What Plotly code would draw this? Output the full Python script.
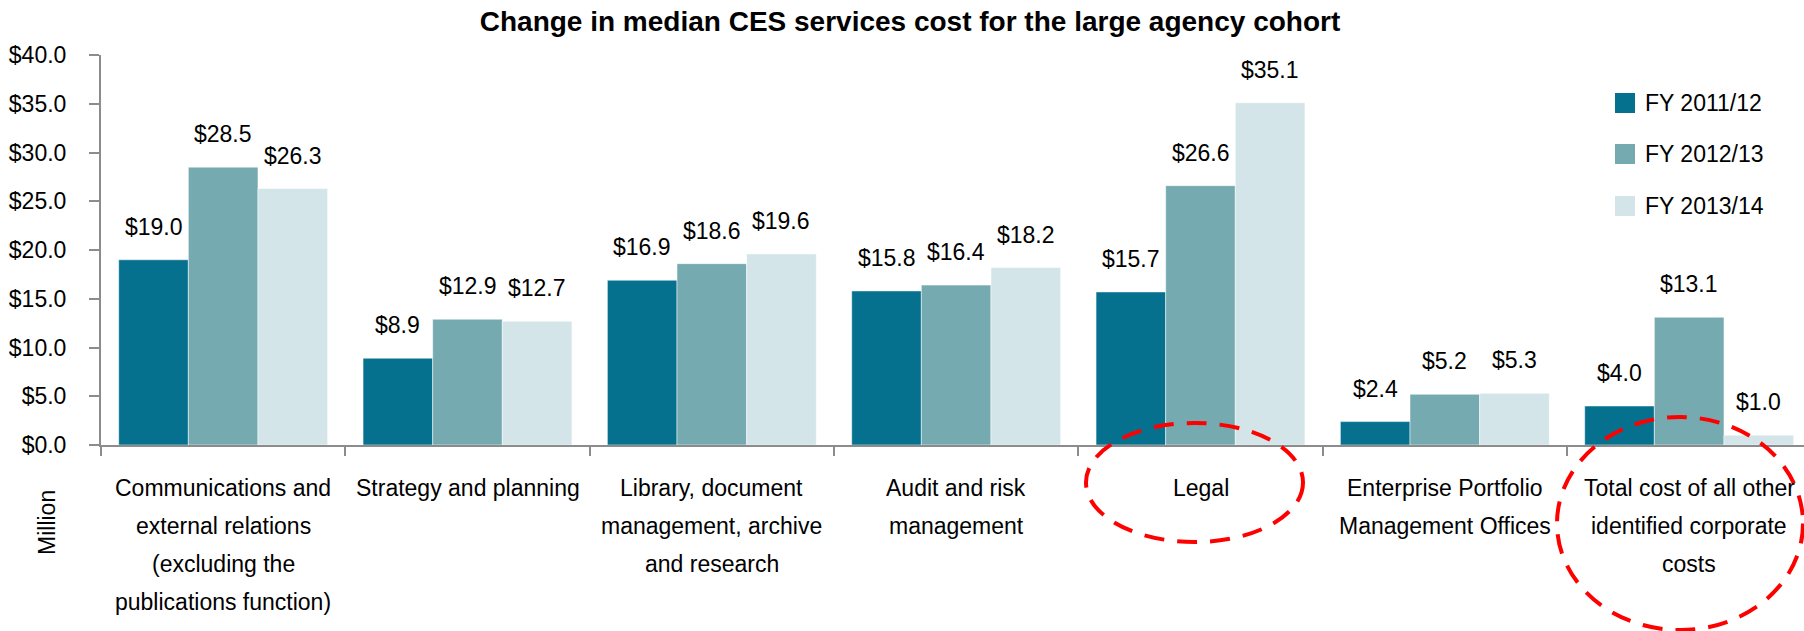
import plotly.graph_objects as go

# Category names (line breaks mark how each label wraps under the axis)
categories = [
    "Communications and<br>external relations<br>(excluding the<br>publications function)",
    "Strategy and planning",
    "Library, document<br>management, archive<br>and research",
    "Audit and risk<br>management",
    "Legal",
    "Enterprise Portfolio<br>Management Offices",
    "Total cost of all other<br>identified corporate<br>costs",
]

series_names = ["FY 2011/12", "FY 2012/13", "FY 2013/14"]
fy_2011_12 = [19.0, 8.9, 16.9, 15.8, 15.7, 2.4, 4.0]
fy_2012_13 = [28.5, 12.9, 18.6, 16.4, 26.6, 5.2, 13.1]
fy_2013_14 = [26.3, 12.7, 19.6, 18.2, 35.1, 5.3, 1.0]
series_values = [fy_2011_12, fy_2012_13, fy_2013_14]
colors = ["#05718F", "#75AAB0", "#D3E5E8"]

y_ticks = [0, 5, 10, 15, 20, 25, 30, 35, 40]
y_tick_labels = [f"${v:.1f}" for v in y_ticks]

FONT = "Arial, Liberation Sans, sans-serif"
FS = 23
W, H = 1804, 631
ML, MT, MB, MR = 101, 55, 186, 0
PW = W - ML - MR
PH = H - MT - MB
X_MAX = 6.47
BARGAP = 0.145
cat_px = PW / (X_MAX + 0.5)
bar_px = cat_px * (1 - BARGAP) / 3


def px_x(px):
    return (px - ML) / PW


def px_y(py):
    return (H - MB - py) / PH


fig = go.Figure()
for name, vals, col in zip(series_names, series_values, colors):
    fig.add_trace(go.Bar(
        x=categories, y=vals, name=name,
        marker=dict(color=col, line=dict(color="rgba(255,255,255,0.5)", width=1)),
        showlegend=False, hoverinfo="skip",
    ))

annotations = []
# value labels above each bar
for i, vals in enumerate(series_values):
    for cat, v in zip(categories, vals):
        annotations.append(dict(
            x=cat, y=v, xref="x", yref="y", text=f"${v:.1f}",
            showarrow=False, xshift=(i - 1) * bar_px, yshift=33,
            font=dict(family=FONT, size=FS, color="#000000"),
            xanchor="center", yanchor="middle",
        ))

# category labels, one annotation per line for wide line spacing
for cat in categories:
    for k, line in enumerate(cat.split("<br>")):
        annotations.append(dict(
            x=cat, y=0, xref="x", yref="paper", text=line,
            showarrow=False, yshift=-(43 + 38 * k),
            font=dict(family=FONT, size=FS, color="#000000"),
            xanchor="center", yanchor="middle",
        ))

# unit label
annotations.append(dict(
    x=px_x(47), y=px_y(523), xref="paper", yref="paper", text="Million",
    textangle=-90, showarrow=False,
    font=dict(family=FONT, size=FS, color="#000000"),
    xanchor="center", yanchor="middle",
))

shapes = []
# legend swatches and entries
legend_rows = [103, 154, 206]
for name, col, cy in zip(series_names, colors, legend_rows):
    shapes.append(dict(
        type="rect", xref="paper", yref="paper",
        x0=px_x(1615), x1=px_x(1635), y0=px_y(cy + 10), y1=px_y(cy - 10),
        fillcolor=col, line=dict(width=0),
    ))
    annotations.append(dict(
        x=px_x(1643), y=px_y(cy), xref="paper", yref="paper", text=name,
        showarrow=False, xanchor="left", yanchor="middle",
        font=dict(family=FONT, size=FS, color="#000000"),
    ))

# dashed highlight rings
for x0, x1, y0, y1 in [(1086, 1303, 423, 542), (1557, 1803, 417, 630)]:
    shapes.append(dict(
        type="circle", xref="paper", yref="paper",
        x0=px_x(x0), x1=px_x(x1), y0=px_y(y1), y1=px_y(y0),
        line=dict(color="#FF0000", width=4, dash="20px,13px"),
        fillcolor="rgba(0,0,0,0)", layer="above",
    ))

fig.update_layout(
    width=W, height=H,
    margin=dict(l=ML, r=MR, t=MT, b=MB, pad=0),
    paper_bgcolor="#FFFFFF", plot_bgcolor="#FFFFFF",
    barmode="group", bargap=BARGAP, bargroupgap=0,
    font=dict(family=FONT, size=FS, color="#000000"),
    title=dict(
        text="<b>Change in median CES services cost for the large agency cohort</b>",
        x=910 / W, xanchor="center", xref="container",
        y=1 - 21 / H, yanchor="middle", yref="container",
        font=dict(family=FONT, size=28, color="#000000"),
    ),
    xaxis=dict(
        type="category", range=[-0.5, X_MAX],
        showline=True, linecolor="#8C8C8C", linewidth=2,
        ticks="outside", tickson="boundaries", ticklen=9,
        tickcolor="#8C8C8C", tickwidth=1.5,
        showticklabels=False, showgrid=False, zeroline=False,
    ),
    yaxis=dict(
        range=[0, 40], tickvals=y_ticks, ticktext=y_tick_labels,
        showline=True, linecolor="#8C8C8C", linewidth=2,
        ticks="outside", ticklen=10, tickcolor="#8C8C8C", tickwidth=1.5,
        ticklabelstandoff=18,
        tickfont=dict(family=FONT, size=FS, color="#000000"),
        showgrid=False, zeroline=False,
    ),
    annotations=annotations,
    shapes=shapes,
)

fig.write_html("out.html")
